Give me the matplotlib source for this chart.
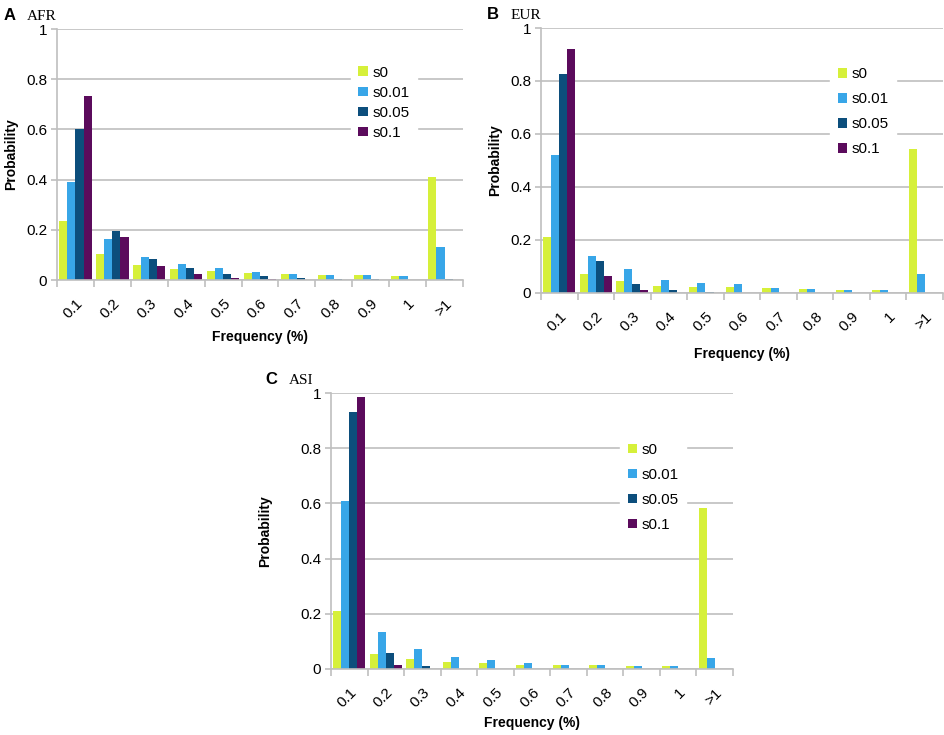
import numpy as np
import matplotlib
matplotlib.use("Agg")
import matplotlib.pyplot as plt

plt.rcParams['font.family'] = ['Liberation Sans', 'DejaVu Sans']

categories = ["0.1", "0.2", "0.3", "0.4", "0.5", "0.6", "0.7", "0.8", "0.9", "1", ">1"]
series_names = ["s0", "s0.01", "s0.05", "s0.1"]
colors = ["#d6f03a", "#38a6e8", "#0c4e7c", "#5b0b5c"]

# panel A - AFR
afr_s0 = [0.235, 0.105, 0.060, 0.045, 0.037, 0.030, 0.025, 0.022, 0.020, 0.018, 0.410]
afr_s001 = [0.390, 0.163, 0.090, 0.065, 0.047, 0.033, 0.025, 0.022, 0.022, 0.017, 0.132]
afr_s005 = [0.602, 0.195, 0.085, 0.047, 0.025, 0.017, 0.010, 0.006, 0.005, 0.0, 0.005]
afr_s01 = [0.735, 0.170, 0.055, 0.023, 0.008, 0.004, 0.0, 0.0, 0.0, 0.0, 0.0]

# panel B - EUR
eur_s0 = [0.210, 0.070, 0.047, 0.028, 0.022, 0.024, 0.017, 0.016, 0.012, 0.012, 0.545]
eur_s001 = [0.520, 0.140, 0.090, 0.050, 0.037, 0.033, 0.018, 0.016, 0.012, 0.010, 0.070]
eur_s005 = [0.825, 0.120, 0.035, 0.010, 0.005, 0.0, 0.0, 0.0, 0.0, 0.0, 0.0]
eur_s01 = [0.920, 0.065, 0.010, 0.0, 0.0, 0.0, 0.0, 0.0, 0.0, 0.0, 0.0]

# panel C - ASI
asi_s0 = [0.210, 0.055, 0.038, 0.027, 0.022, 0.016, 0.014, 0.013, 0.011, 0.010, 0.585]
asi_s001 = [0.610, 0.133, 0.072, 0.044, 0.032, 0.020, 0.016, 0.013, 0.010, 0.010, 0.040]
asi_s005 = [0.930, 0.057, 0.010, 0.0, 0.0, 0.0, 0.0, 0.0, 0.0, 0.0, 0.0]
asi_s01 = [0.985, 0.013, 0.0, 0.0, 0.0, 0.0, 0.0, 0.0, 0.0, 0.0, 0.0]

yticks = [0, 0.2, 0.4, 0.6, 0.8, 1]
ytick_labels = ["0", "0.2", "0.4", "0.6", "0.8", "1"]

grid_col = "#bfbfbf"


def draw_panel(ax, data, letter, region, legend_pos, spacing, letter_off, ylpad, xlpad):
    x = np.arange(len(categories))
    w = 0.22
    for i, (vals, name, col) in enumerate(zip(data, series_names, colors)):
        ax.bar(x + (i - 1.5) * w, vals, width=w, color=col, label=name, zorder=2)
    ax.set_xlim(-0.5, len(categories) - 0.5)
    ax.set_ylim(0, 1)
    ax.set_yticks(yticks)
    ax.set_yticklabels(ytick_labels, fontsize=11)
    ax.yaxis.grid(True, color=grid_col, lw=1.2, zorder=0)
    ax.set_axisbelow(True)
    ax.set_xticks(x)
    ax.set_xticklabels(categories, rotation=45, ha="right", va="top",
                       rotation_mode="anchor", fontsize=11)
    ax.tick_params(axis="x", length=0, pad=12)
    ax.set_xticks(np.arange(-0.5, len(categories)), minor=True)
    ax.tick_params(axis="x", which="minor", length=5, color=grid_col, width=1.2)
    ax.tick_params(axis="y", length=4, color=grid_col, width=1.2, pad=3)
    for s in ["top", "right"]:
        ax.spines[s].set_visible(False)
    for s in ["left", "bottom"]:
        ax.spines[s].set_color(grid_col)
        ax.spines[s].set_linewidth(1.2)
    ax.set_ylabel("Probability", fontsize=10, fontweight="bold", labelpad=ylpad)
    ax.set_xlabel("Frequency (%)", fontsize=10, fontweight="bold", labelpad=xlpad)
    leg = ax.legend(loc="upper left", bbox_to_anchor=legend_pos, frameon=True,
                    fontsize=11, handlelength=0.6, handleheight=0.6,
                    handletextpad=0.3, labelspacing=spacing, borderpad=0.5,
                    fancybox=False)
    leg.get_frame().set_edgecolor("white")
    leg.get_frame().set_facecolor("white")
    leg.get_frame().set_alpha(1)
    pos = ax.get_position()
    fig.text(pos.x0 - letter_off, pos.y1 + 0.008, letter, fontsize=12, fontweight="bold",
             va="bottom", ha="left")
    fig.text(pos.x0 - letter_off + 0.025, pos.y1 + 0.008, region, fontsize=11,
             family="Liberation Serif", va="bottom", ha="left")


fig = plt.figure(figsize=(9.45, 7.35), dpi=100)
ax_a = fig.add_axes([0.0603, 0.619, 0.4296, 0.3415])
ax_b = fig.add_axes([0.5725, 0.6014, 0.4254, 0.3605])
ax_c = fig.add_axes([0.3503, 0.0898, 0.4254, 0.3755])

draw_panel(ax_a, [afr_s0, afr_s001, afr_s005, afr_s01], "A", "AFR",
           (0.705, 0.915), 0.4, 0.057, 6, 6)
draw_panel(ax_b, [eur_s0, eur_s001, eur_s005, eur_s01], "B", "EUR",
           (0.70, 0.91), 0.72, 0.057, 6, 9)
draw_panel(ax_c, [asi_s0, asi_s001, asi_s005, asi_s01], "C", "ASI",
           (0.70, 0.875), 0.72, 0.070, 20, 4)

fig.savefig("out.png", dpi=100, facecolor="white")
